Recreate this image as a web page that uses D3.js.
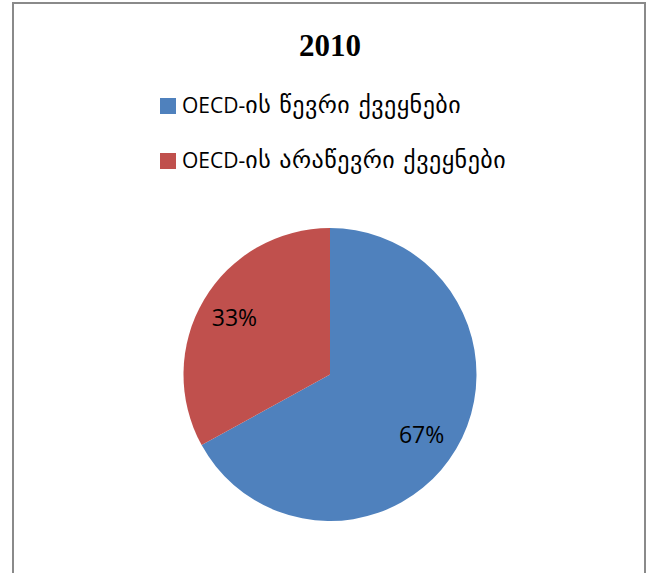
<!DOCTYPE html>
<html>
<head>
<meta charset="utf-8">
<script src="https://cdn.jsdelivr.net/npm/d3@7"></script>
<style>
html,body{margin:0;padding:0;background:#fff;}
svg{display:block;}
</style>
</head>
<body>
<svg id="chart" width="652" height="573"></svg>
<script>
const title = "2010";
const categoryPrefix = ["OECD-", "OECD-"];
const categorySuffix = ["ის წევრი ქვეყნები", "ის არაწევრი ქვეყნები"];
const values = [67, 33];
const labels = ["67%", "33%"];
const colors = ["#4F81BD", "#C0504D"];

const svg = d3.select("#chart");

svg.append("rect")
  .attr("x", 13).attr("y", 3)
  .attr("width", 632).attr("height", 600)
  .attr("fill", "#fff")
  .attr("stroke", "#8a8a8a").attr("stroke-width", 2);

svg.append("text")
  .attr("x", 330).attr("y", 56)
  .attr("text-anchor", "middle")
  .attr("font-family", "Liberation Serif, serif")
  .attr("font-weight", "bold")
  .attr("font-size", 31)
  .attr("fill", "#000")
  .text(title);

const legend = svg.append("g");
categoryPrefix.forEach((c, i) => {
  const y = 98 + i * 55;
  legend.append("rect")
    .attr("x", 160).attr("y", y)
    .attr("width", 16).attr("height", 16)
    .attr("fill", colors[i]);
  const t = legend.append("text")
    .attr("x", 182).attr("y", y + 15)
    .attr("fill", "#000");
  t.append("tspan")
    .attr("font-family", "Open Sans, sans-serif")
    .attr("font-size", 21)
    .text(c);
  t.append("tspan")
    .attr("font-family", "DejaVu Sans, sans-serif")
    .attr("font-size", 24)
    .attr("letter-spacing", 0.5)
    .text(categorySuffix[i]);
});

const cx = 330, cy = 374.5, R = 146.5;
const pie = d3.pie().sort(null).value(d => d)(values);
const arc = d3.arc().innerRadius(0).outerRadius(R);
const labelArc = d3.arc().innerRadius(111).outerRadius(111);

const g = svg.append("g").attr("transform", `translate(${cx},${cy})`);
g.selectAll("path").data(pie).enter().append("path")
  .attr("d", arc)
  .attr("fill", (d, i) => colors[i]);

g.selectAll("text.lbl").data(pie).enter().append("text")
  .attr("class", "lbl")
  .attr("transform", (d, i) => {
    const c = labelArc.centroid(d);
    return `translate(${i === 0 ? c[0] - 4 : c[0]},${i === 0 ? c[1] + 4 : c[1]})`;
  })
  .attr("text-anchor", "middle")
  .attr("dy", "0.36em")
  .attr("font-family", "Open Sans, sans-serif")
  .attr("font-size", 23)
  .attr("fill", "#000")
  .text((d, i) => labels[i]);
</script>
</body>
</html>
